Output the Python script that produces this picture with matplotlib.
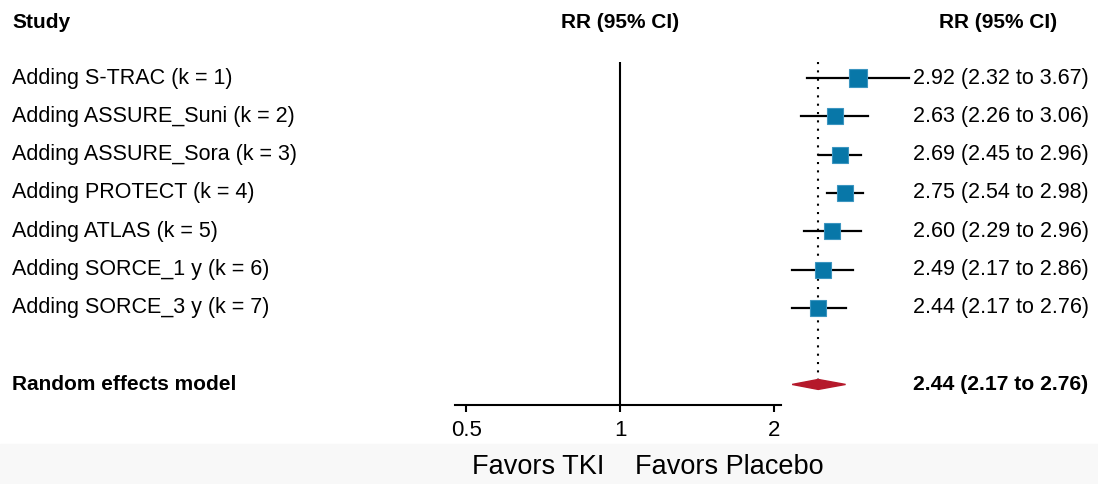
"""leave-one-in cumulative meta-analysis forest plot"""
import matplotlib.pyplot as plt
from matplotlib.patches import Rectangle, Polygon

studies = ["Adding S-TRAC (k = 1)", "Adding ASSURE_Suni (k = 2)",
           "Adding ASSURE_Sora (k = 3)", "Adding PROTECT (k = 4)",
           "Adding ATLAS (k = 5)", "Adding SORCE_1 y (k = 6)",
           "Adding SORCE_3 y (k = 7)"]
rr = [2.92, 2.63, 2.69, 2.75, 2.60, 2.49, 2.44]
lower = [2.32, 2.26, 2.45, 2.54, 2.29, 2.17, 2.17]
upper = [3.67, 3.06, 2.96, 2.98, 2.96, 2.86, 2.76]
pooled = (2.44, 2.17, 2.76)
ticks = [0.5, 1, 2]
tick_labels = ["0.5", "1", "2"]

plt.rcParams['font.family'] = ['Liberation Sans', 'DejaVu Sans']

fig = plt.figure(figsize=(10.98, 4.84), dpi=100)
ax = fig.add_axes([0, 0, 1, 1])
ax.set_xscale('log', base=2)
ax.set_xlim(0.0613, 8.6)
ax.set_ylim(10.6, -2.04)
ax.patch.set_alpha(0)

# grey footer band
fig.patches.append(Rectangle((0, 0), 1, 40 / 484, transform=fig.transFigure,
                             color='#f8f8f8', zorder=-5))

rows = list(range(len(studies)))
pooled_row = len(studies) + 1
header_row = -1.46
axis_row = 8.53
val_x = 0.8315

# reference lines
ax.vlines(1, -0.42, axis_row, color='black', lw=1.5)
ax.vlines(pooled[0], -0.42, pooled_row, color='black', lw=1.5,
          linestyles=(0, (1, 3)))

# study estimates
for i in rows:
    ax.plot([lower[i], upper[i]], [i, i], color='black', lw=1.6, zorder=2)
    size = 13 if i == 0 else 12
    ax.plot(rr[i], i, marker='s', ms=size, color='#0877a8',
            mec='#3b95c0', mew=0.8, zorder=3)
    ax.text(val_x, i, f"{rr[i]:.2f} ({lower[i]:.2f} to {upper[i]:.2f})",
            transform=ax.get_yaxis_transform(), ha='left', va='center',
            fontsize=15.5)
    ax.text(0.011, i, studies[i], transform=ax.get_yaxis_transform(),
            ha='left', va='center', fontsize=15.5)

# pooled diamond
est, lo, hi = pooled
ax.add_patch(Polygon([(lo, pooled_row), (est, pooled_row - 0.13),
                      (hi, pooled_row), (est, pooled_row + 0.13)],
                     closed=True, color='#b5192b', zorder=3))
ax.text(0.011, pooled_row, "Random effects model",
        transform=ax.get_yaxis_transform(), ha='left', va='center',
        fontsize=15, fontweight='bold')
ax.text(val_x, pooled_row, f"{est:.2f} ({lo:.2f} to {hi:.2f})",
        transform=ax.get_yaxis_transform(), ha='left', va='center',
        fontsize=15.2, fontweight='bold')

# headers
ax.text(0.011, header_row, "Study", transform=ax.get_yaxis_transform(),
        ha='left', va='center', fontsize=15, fontweight='bold')
ax.text(1, header_row, "RR (95% CI)", ha='center', va='center',
        fontsize=15, fontweight='bold')
ax.text(0.909, header_row, "RR (95% CI)", transform=ax.get_yaxis_transform(),
        ha='center', va='center', fontsize=15, fontweight='bold')

# x axis
for side in ['top', 'left', 'right']:
    ax.spines[side].set_visible(False)
ax.spines['bottom'].set_position(('data', axis_row))
ax.spines['bottom'].set_bounds(0.475, 2.06)
ax.spines['bottom'].set_linewidth(1.5)
ax.set_xticks(ticks)
ax.set_xticklabels(tick_labels, fontsize=16, fontweight='medium')
ax.minorticks_off()
ax.tick_params(axis='x', direction='out', length=5, width=1.5, pad=6)
ax.set_yticks([])

# footer labels
ax.text(0.93, 10.15, "Favors TKI", ha='right', va='center', fontsize=19.5)
ax.text(1.07, 10.15, "Favors Placebo", ha='left', va='center', fontsize=19.5)

fig.savefig("out.png", dpi=100)
